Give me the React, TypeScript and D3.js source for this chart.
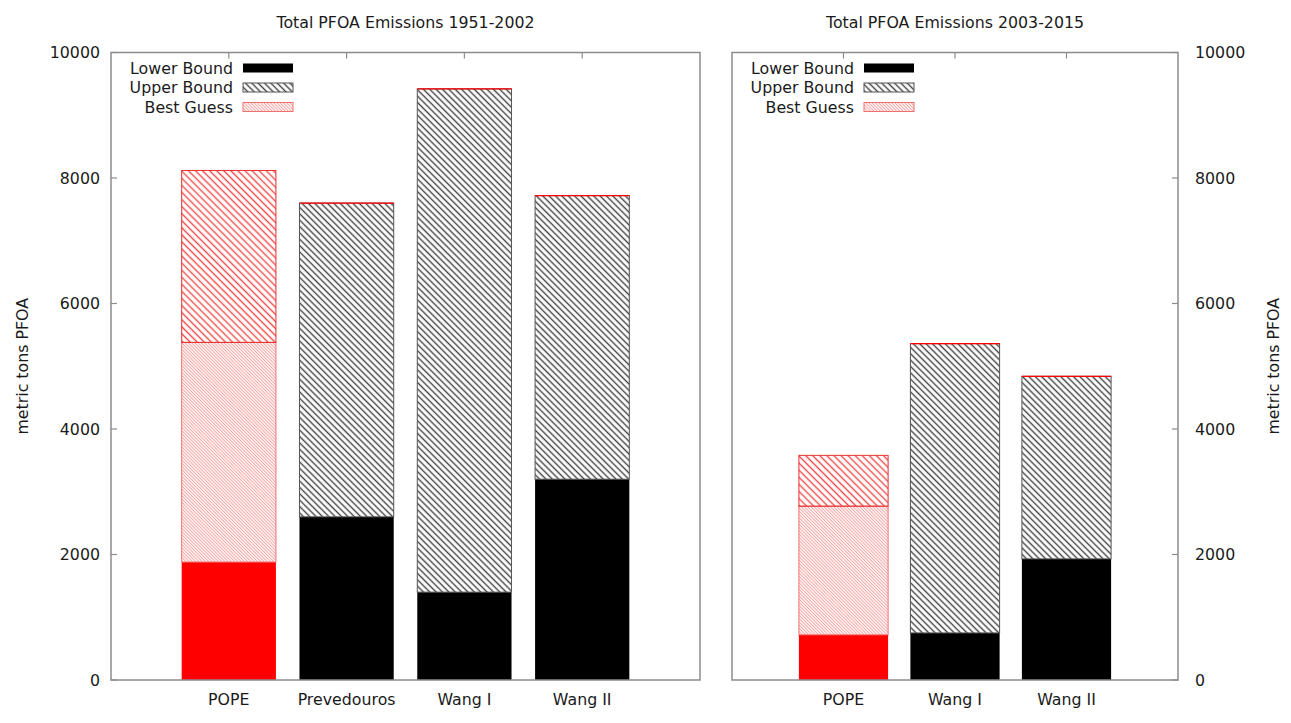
import * as d3 from "d3";

const leftTitle = "Total PFOA Emissions 1951-2002";
const rightTitle = "Total PFOA Emissions 2003-2015";
const yLabel = "metric tons PFOA";

const leftCats = ["POPE", "Prevedouros", "Wang I", "Wang II"];
const leftLower = [1880, 2600, 1400, 3200];
const leftBest = [5380, 0, 0, 0];
const leftUpper = [8120, 7600, 9420, 7720];

const rightCats = ["POPE", "Wang I", "Wang II"];
const rightLower = [720, 750, 1930];
const rightBest = [2770, 0, 0];
const rightUpper = [3580, 5360, 4840];

const redCats = ["POPE"];
const yTicks = [0, 2000, 4000, 6000, 8000, 10000];
const legendItems = ["Lower Bound", "Upper Bound", "Best Guess"];

const W = 1291;
const H = 723;
const TOP = 52.5;
const BOTTOM = 680;
const FONT = "'DejaVu Sans', sans-serif";
const FS = 15.8;
const TXT = "#1a1a1a";
const BORDER = "#8c8c8c";

const y = d3.scaleLinear().domain([0, 10000]).range([BOTTOM, TOP]);

type PanelProps = {
  cats: string[];
  lower: number[];
  best: number[];
  upper: number[];
  x0: number;
  x1: number;
  title: string;
  side: "left" | "right";
  legendX: number;
};

const Panel = ({ cats, lower, best, upper, x0, x1, title, side, legendX }: PanelProps) => {
  const x = d3.scaleLinear().domain([-1, cats.length]).range([x0, x1]);
  const bw = (x(1) - x(0)) * 0.8;
  const axisX = side === "left" ? x0 : x1;
  const tickDir = side === "left" ? 1 : -1;

  return (
    <g>
      <text x={(x0 + x1) / 2} y={28} textAnchor="middle" fontSize={FS} fill={TXT}>
        {title}
      </text>

      {cats.map((c, i) => {
        const red = redCats.includes(c);
        const left = x(i) - bw / 2;
        const hasBest = best[i] > 0;
        return (
          <g key={c}>
            <rect
              x={left}
              y={y(lower[i])}
              width={bw}
              height={y(0) - y(lower[i])}
              fill={red ? "#ff0000" : "#000"}
            />
            {hasBest && (
              <rect
                x={left}
                y={y(best[i])}
                width={bw}
                height={y(lower[i]) - y(best[i])}
                fill="url(#hatchBest)"
                stroke="#f07070"
                strokeWidth={1}
              />
            )}
            <rect
              x={left}
              y={y(upper[i])}
              width={bw}
              height={y(hasBest ? best[i] : lower[i]) - y(upper[i])}
              fill={red ? "url(#hatchRed)" : "url(#hatchGray)"}
              stroke={red ? "#e83030" : "#555"}
              strokeWidth={1}
            />
            {!red && (
              <line
                x1={left}
                x2={left + bw}
                y1={y(upper[i])}
                y2={y(upper[i])}
                stroke="#ff0000"
                strokeWidth={1.3}
              />
            )}
            <line x1={x(i)} x2={x(i)} y1={TOP} y2={TOP + 6} stroke={BORDER} strokeWidth={1.2} />
            <text x={x(i)} y={705} textAnchor="middle" fontSize={FS} fill={TXT}>
              {c}
            </text>
          </g>
        );
      })}

      {yTicks.map((t) => (
        <g key={t}>
          <line
            x1={axisX}
            x2={axisX + tickDir * 6}
            y1={y(t)}
            y2={y(t)}
            stroke={BORDER}
            strokeWidth={1.2}
          />
          <text
            x={side === "left" ? axisX - 11 : axisX + 17}
            y={y(t)}
            dy="0.35em"
            textAnchor={side === "left" ? "end" : "start"}
            fontSize={FS}
            fill={TXT}
          >
            {t}
          </text>
        </g>
      ))}

      <rect
        x={x0}
        y={TOP}
        width={x1 - x0}
        height={BOTTOM - TOP}
        fill="none"
        stroke={BORDER}
        strokeWidth={1.5}
      />

      <text
        transform={`translate(${side === "left" ? 22 : 1273}, ${(TOP + BOTTOM) / 2}) rotate(-90)`}
        textAnchor="middle"
        dy="0.35em"
        fontSize={FS}
        fill={TXT}
      >
        {yLabel}
      </text>

      {/* legend */}
      {legendItems.map((name, k) => {
        const cy = 68 + k * 19.5;
        const sx = legendX + 10;
        return (
          <g key={name}>
            <text x={legendX} y={cy} dy="0.35em" textAnchor="end" fontSize={FS} fill={TXT}>
              {name}
            </text>
            {k === 0 && <rect x={sx} y={cy - 4.5} width={50} height={9} fill="#000" />}
            {k === 1 && (
              <rect
                x={sx}
                y={cy - 4.5}
                width={50}
                height={9}
                fill="url(#hatchGray)"
                stroke="#555"
                strokeWidth={1}
              />
            )}
            {k === 2 && (
              <rect
                x={sx}
                y={cy - 4.5}
                width={50}
                height={9}
                fill="url(#hatchBest)"
                stroke="#f07070"
                strokeWidth={1}
              />
            )}
          </g>
        );
      })}
    </g>
  );
};

const App = () => (
  <div style={{ position: "absolute", left: 0, top: 0 }}>
    <svg width={W} height={H} fontFamily={FONT} style={{ display: "block", background: "#fff" }}>
      <defs>
        <pattern
          id="hatchGray"
          width={4.5}
          height={10}
          patternUnits="userSpaceOnUse"
          patternTransform="rotate(-45)"
        >
          <line x1={2.25} y1={0} x2={2.25} y2={10} stroke="#404040" strokeWidth={1.4} />
        </pattern>
        <pattern
          id="hatchRed"
          width={5}
          height={10}
          patternUnits="userSpaceOnUse"
          patternTransform="rotate(-45)"
        >
          <line x1={2.5} y1={0} x2={2.5} y2={10} stroke="#f04848" strokeWidth={1.4} />
        </pattern>
        <pattern
          id="hatchBest"
          width={2.3}
          height={10}
          patternUnits="userSpaceOnUse"
          patternTransform="rotate(-45)"
        >
          <line x1={1.15} y1={0} x2={1.15} y2={10} stroke="#f5a0a0" strokeWidth={1} />
        </pattern>
      </defs>
      <Panel
        cats={leftCats}
        lower={leftLower}
        best={leftBest}
        upper={leftUpper}
        x0={111}
        x1={700}
        title={leftTitle}
        side="left"
        legendX={233}
      />
      <Panel
        cats={rightCats}
        lower={rightLower}
        best={rightBest}
        upper={rightUpper}
        x0={732}
        x1={1178}
        title={rightTitle}
        side="right"
        legendX={854}
      />
    </svg>
  </div>
);

export default App;
